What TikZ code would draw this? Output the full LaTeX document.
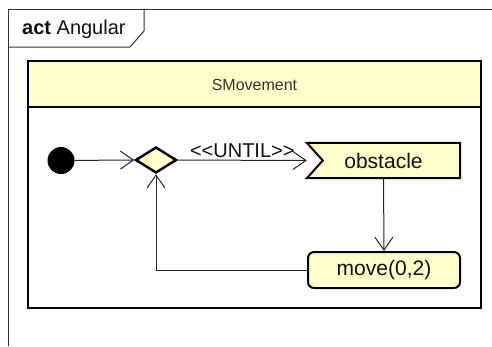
\documentclass[tikz,border=0pt]{standalone}
\usepackage{fontspec}
\setmainfont{Liberation Sans}
\usetikzlibrary{arrows.meta,shapes.geometric,backgrounds,calc}
\definecolor{yel}{HTML}{FFFFCC}
\definecolor{txt}{HTML}{111111}
\tikzset{
  nodeline/.style={draw=black, line width=2pt},
  conn/.style={draw=black!85, line width=1pt, -{Straight Barb[length=13pt,width=18pt,line width=1pt]}},
  big/.style={font=\fontsize{21}{25}\selectfont, text=txt},
}
\begin{document}
\begin{tikzpicture}[x=1pt,y=-1pt]
\useasboundingbox (0,0) rectangle (492,346);
% outer frame
\draw[line width=1pt, draw=black!80] (492,9) -- (8,9) -- (8,346);
\coordinate (tabA) at (8,47);
\coordinate (tabB) at (130,47);
\coordinate (tabC) at (144,31);
\coordinate (tabD) at (144,9);
\draw[line width=1pt, draw=black!80] (tabA) -- (tabB) -- (tabC) -- (tabD);
\node[anchor=west, font=\fontsize{20}{24}\selectfont, text=txt, inner sep=0] (title) at (22,29) {\textbf{act} Angular};
% partition
\fill[yel] (28,61) rectangle (481,107);
\draw[line width=2.5pt] (28,61) rectangle (481,308);
\draw[line width=2pt] (28,107) -- (481,107);
\node[font=\fontsize{16}{19}\selectfont, text=black!80] (part) at (254.5,85) {SMovement};
% nodes
\node[circle, fill=black, minimum size=27pt, inner sep=0] (init) at (61,160.5) {};
\node[diamond, draw=black, fill=yel, minimum width=41pt, minimum height=26pt, inner sep=0, aspect=1.58, line width=2.5pt] (dec) at (156,160) {};
\node[big, minimum width=153pt, minimum height=35pt, inner sep=0] (obs) at (383.5,160.5) {obstacle};
\begin{scope}[on background layer]
\draw[nodeline, fill=yel] (obs.north west) -- (obs.north east) -- (obs.south east) -- (obs.south west) -- ($(obs.west)+(16,0)$) -- cycle;
\end{scope}
\node[big, nodeline, fill=yel, rounded corners=6pt, minimum width=152pt, minimum height=36pt, inner sep=0] (move) at (384,270) {move(0,2)};
% connectors
\draw[conn] (init) -- (dec.west);
\draw[conn] (dec.east) -- node[above, big, font=\fontsize{20}{24}\selectfont, inner sep=1pt, yshift=1pt] (until) {<{}<UNTIL>{}>} (obs.west);
\draw[conn] (obs.south) -- (move.north);
\draw[conn] (move.west) -| (dec.south);
\end{tikzpicture}
\end{document}
